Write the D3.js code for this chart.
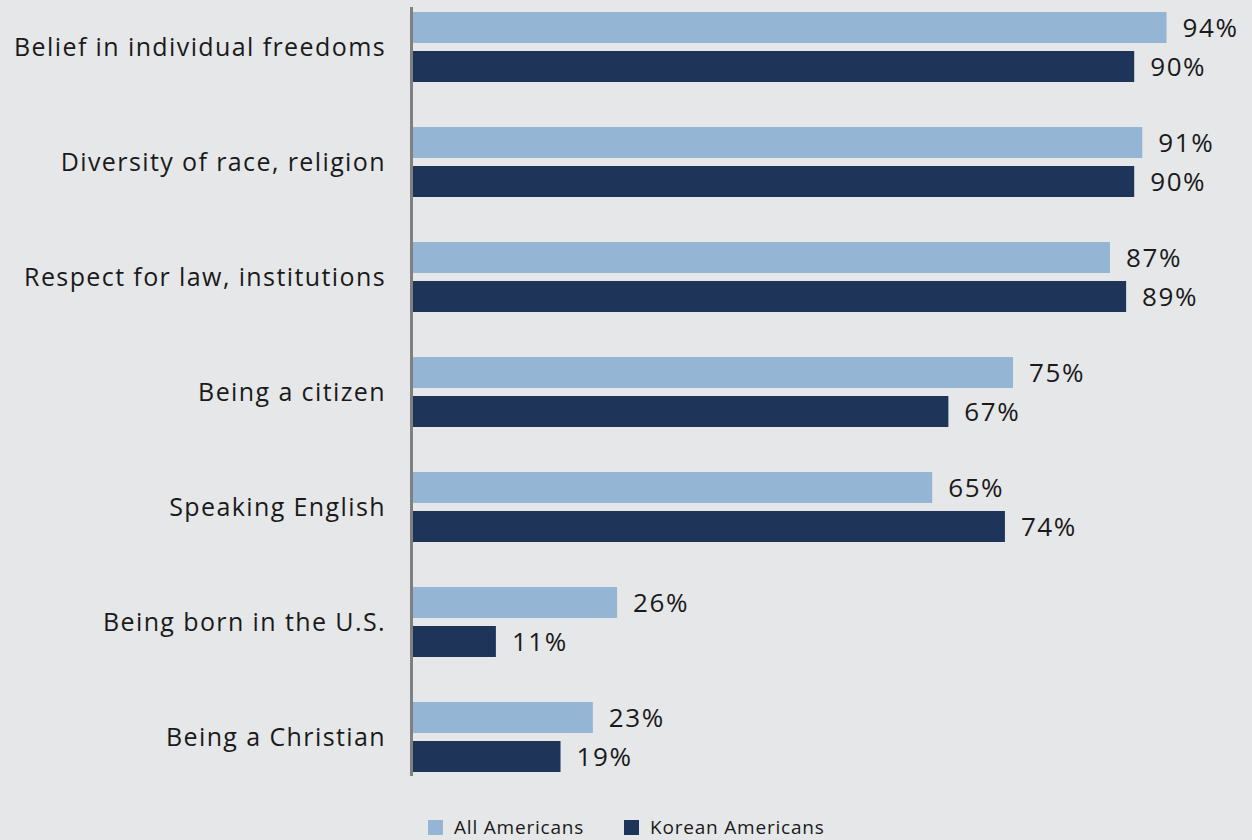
<!DOCTYPE html>
<html>
<head>
<meta charset="utf-8">
<script src="https://cdn.jsdelivr.net/npm/d3@7"></script>
<style>
  html, body { margin: 0; padding: 0; background: #e6e7e9; }
  svg { display: block; font-family: "Open Sans", sans-serif; }
</style>
</head>
<body>
<svg id="chart" width="1252" height="840"></svg>
<script>
// Survey items, top to bottom
const categories = [
  "Belief in individual freedoms",
  "Diversity of race, religion",
  "Respect for law, institutions",
  "Being a citizen",
  "Speaking English",
  "Being born in the U.S.",
  "Being a Christian"
];
const seriesNames = ["All Americans", "Korean Americans"];
const allAmericans    = [94, 91, 87, 75, 65, 26, 23];
const koreanAmericans = [90, 90, 89, 67, 74, 11, 19];
const seriesColors = ["#94b6d4", "#1e3459"];

const svg = d3.select("#chart");
const W = 1252, H = 840;
svg.append("rect").attr("width", W).attr("height", H).attr("fill", "#e6e7e9");

const axisX = 411.5;
const x = d3.scaleLinear().domain([0, 100]).range([407, 1215]);
const y = d3.scaleBand().domain(categories).range([12, 772]).paddingInner(45 / 115).paddingOuter(0);
const ySub = d3.scaleBand().domain(seriesNames).range([0, y.bandwidth()]).paddingInner(8 / 39).paddingOuter(0);

const rows = categories.map((c, i) => ({
  cat: c,
  vals: [
    { s: seriesNames[0], v: allAmericans[i] },
    { s: seriesNames[1], v: koreanAmericans[i] }
  ]
}));

const g = svg.append("g");
const groups = g.selectAll("g.row").data(rows).join("g")
  .attr("class", "row")
  .attr("transform", d => `translate(0,${y(d.cat)})`);

groups.selectAll("rect").data(d => d.vals).join("rect")
  .attr("x", axisX + 1.5)
  .attr("y", d => ySub(d.s))
  .attr("width", d => x(d.v) - (axisX + 1.5))
  .attr("height", ySub.bandwidth())
  .attr("fill", (d, i) => seriesColors[i]);

groups.selectAll("text.val").data(d => d.vals).join("text")
  .attr("class", "val")
  .attr("x", d => x(d.v) + 16)
  .attr("y", d => ySub(d.s) + ySub.bandwidth() / 2)
  .attr("dy", "0.36em")
  .attr("font-size", 26)
  .attr("letter-spacing", 1.6)
  .attr("fill", "#1a1a1a")
  .text(d => d.v + "%");

groups.append("text")
  .attr("class", "cat")
  .attr("x", 386)
  .attr("y", y.bandwidth() / 2)
  .attr("dy", "0.36em")
  .attr("text-anchor", "end")
  .attr("font-size", 25)
  .attr("letter-spacing", 1.4)
  .attr("fill", "#1a1a1a")
  .text(d => d.cat);

// Vertical baseline
svg.append("line")
  .attr("x1", axisX).attr("x2", axisX)
  .attr("y1", 7).attr("y2", 776)
  .attr("stroke", "#808080")
  .attr("stroke-width", 3);

// Legend
const legendItems = [
  { name: seriesNames[0], color: seriesColors[0], x: 428 },
  { name: seriesNames[1], color: seriesColors[1], x: 624 }
];
const lg = svg.append("g").selectAll("g").data(legendItems).join("g")
  .attr("transform", d => `translate(${d.x},820)`);
lg.append("rect").attr("width", 15).attr("height", 15).attr("fill", d => d.color);
lg.append("text")
  .attr("x", 26).attr("y", 7.5).attr("dy", "0.36em")
  .attr("font-size", 19)
  .attr("letter-spacing", 0.8)
  .attr("fill", "#1a1a1a")
  .text(d => d.name);
</script>
</body>
</html>
